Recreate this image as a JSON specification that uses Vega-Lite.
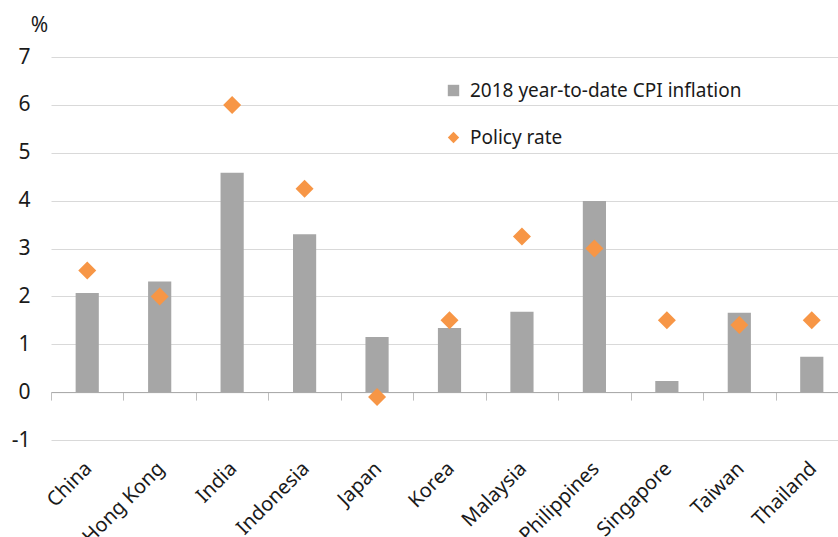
{
  "$schema": "https://vega.github.io/schema/vega-lite/v6.json",
  "width": 797,
  "height": 383,
  "autosize": "none",
  "padding": {"left": 51, "top": 57, "right": 0, "bottom": 97},
  "background": "white",
  "config": {
    "view": {"stroke": null},
    "font": "Noto Sans",
    "axis": {"labelColor": "#1a1a1a", "titleColor": "#1a1a1a", "labelFont": "Noto Sans", "titleFont": "Noto Sans"}
  },
  "data": {
    "values": [
      {"country": "China", "cpi": 2.07, "policy": 2.54},
      {"country": "Hong Kong", "cpi": 2.31, "policy": 2.0},
      {"country": "India", "cpi": 4.58, "policy": 6.0},
      {"country": "Indonesia", "cpi": 3.3, "policy": 4.25},
      {"country": "Japan", "cpi": 1.15, "policy": -0.1},
      {"country": "Korea", "cpi": 1.34, "policy": 1.5},
      {"country": "Malaysia", "cpi": 1.68, "policy": 3.25},
      {"country": "Philippines", "cpi": 3.99, "policy": 3.0},
      {"country": "Singapore", "cpi": 0.23, "policy": 1.5},
      {"country": "Taiwan", "cpi": 1.66, "policy": 1.4},
      {"country": "Thailand", "cpi": 0.74, "policy": 1.5}
    ]
  },
  "encoding": {
    "x": {
      "field": "country",
      "type": "nominal",
      "sort": null,
      "scale": {"paddingInner": 0, "paddingOuter": 0},
      "axis": {
        "title": null,
        "offset": -47.9,
        "domainColor": "#a6a6a6",
        "domainWidth": 1,
        "tickColor": "#bfbfbf",
        "tickSize": 8,
        "tickBand": "extent",
        "labelAngle": -45,
        "labelAlign": "right",
        "labelBaseline": "top",
        "labelPadding": 58,
        "labelOffset": -6,
        "labelFontSize": 20,
        "labelColor": "#1a1a1a",
        "grid": false
      }
    }
  },
  "layer": [
    {
      "mark": {"type": "bar", "width": {"band": 0.32}},
      "encoding": {
        "y": {
          "field": "cpi",
          "type": "quantitative",
          "scale": {"domain": [-1, 7], "nice": false, "zero": false},
          "axis": {
            "title": "%",
            "titleAngle": 0,
            "titleAlign": "center",
            "titleBaseline": "middle",
            "titleX": -12,
            "titleY": -32,
            "titleFontSize": 21,
            "titleFontWeight": "normal",
            "values": [-1, 0, 1, 2, 3, 4, 5, 6, 7],
            "labelExpr": "datum.value < 0 ? '-' + abs(datum.value) : '' + datum.value",
            "domain": false,
            "ticks": false,
            "labelPadding": 21,
            "labelFontSize": 21,
            "grid": true,
            "gridColor": "#d9d9d9",
            "gridWidth": 1
          }
        },
        "color": {
          "datum": "2018 year-to-date CPI inflation",
          "type": "nominal",
          "scale": {"domain": ["2018 year-to-date CPI inflation", "Policy rate"], "range": ["#a6a6a6", "#f79646"]},
          "legend": {
            "title": null,
            "orient": "none",
            "legendX": 393,
            "legendY": 24,
            "labelFontSize": 19,
            "labelLimit": 0,
            "labelColor": "#1a1a1a",
            "labelOffset": 7,
            "symbolSize": 130,
            "symbolStrokeWidth": 0,
            "rowPadding": 27
          }
        }
      }
    },
    {
      "mark": {"type": "point", "filled": true, "opacity": 1, "size": 324},
      "encoding": {
        "y": {"field": "policy", "type": "quantitative"},
        "color": {"datum": "Policy rate", "type": "nominal"},
        "shape": {
          "datum": "Policy rate",
          "type": "nominal",
          "scale": {"domain": ["2018 year-to-date CPI inflation", "Policy rate"], "range": ["square", "diamond"]},
          "legend": {
            "title": null,
            "orient": "none",
            "legendX": 393,
            "legendY": 24,
            "labelFontSize": 19,
            "labelLimit": 0,
            "labelColor": "#1a1a1a",
            "labelOffset": 7,
            "symbolSize": 130,
            "symbolStrokeWidth": 0,
            "rowPadding": 27
          }
        }
      }
    }
  ]
}
